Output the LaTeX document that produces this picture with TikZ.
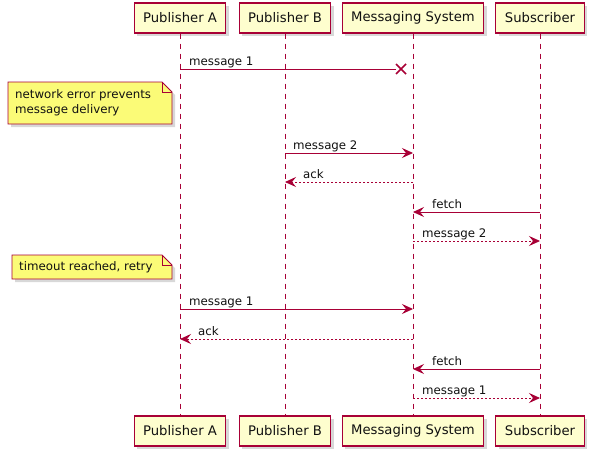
\documentclass[tikz,border=0pt]{standalone}
\usepackage{fontspec}
\setmainfont{DejaVu Sans}
\usetikzlibrary{arrows.meta,shadows}
\definecolor{pborder}{HTML}{A80036}
\definecolor{pfill}{HTML}{FEFECE}
\definecolor{nfill}{HTML}{FBFB77}
\definecolor{txt}{HTML}{111111}
\begin{document}
\begin{tikzpicture}[x=1pt,y=-1pt,
  part/.style={draw=pborder, fill=pfill, line width=1.1pt, minimum height=30pt, inner xsep=9pt,
    text=txt, font=\fontsize{13.2}{15}\selectfont,
    drop shadow={opacity=0.3, shadow xshift=3pt, shadow yshift=-3pt}},
  life/.style={draw=pborder, line width=0.8pt, dash pattern=on 5pt off 5pt},
  msg/.style={draw=pborder, line width=0.9pt, -{Stealth[length=11pt,width=10pt,inset=4pt]}},
  ret/.style={msg, dash pattern=on 2pt off 2pt},
  lbl/.style={anchor=base west, inner sep=0pt, text=txt, font=\fontsize{11.8}{14}\selectfont},
  notebg/.style={draw=pborder, fill=nfill, line width=0.9pt,
    drop shadow={opacity=0.3, shadow xshift=3pt, shadow yshift=-3pt}},
  notetxt/.style={anchor=west, inner sep=0pt, align=left, text=txt, font=\fontsize{11.8}{15}\selectfont}
]
\useasboundingbox (0,0) rectangle (593,455);
\fill[white] (0,0) rectangle (593,455);

% participants
\node[part] (tA) at (180,18) {Publisher A};
\node[part] (tB) at (285,18) {Publisher B};
\node[part] (tM) at (413,18) {Messaging System};
\node[part] (tS) at (540,18) {Subscriber};
\node[part] (bA) at (180,431) {Publisher A};
\node[part] (bB) at (285,431) {Publisher B};
\node[part] (bM) at (413,431) {Messaging System};
\node[part] (bS) at (540,431) {Subscriber};

% lifelines
\draw[life] (tA.south) -- (bA.north);
\draw[life] (tB.south) -- (bB.north);
\draw[life] (tM.south) -- (bM.north);
\draw[life] (tS.south) -- (bS.north);

% message 1 lost
\coordinate (a1) at (180,69);
\coordinate (x1) at (401,69);
\draw[draw=pborder, line width=0.9pt] (a1) -- ([xshift=-5pt]x1);
\draw[draw=pborder, line width=1.6pt] ([xshift=-5pt,yshift=-5pt]x1) -- ([xshift=5pt,yshift=5pt]x1)
  ([xshift=-5pt,yshift=5pt]x1) -- ([xshift=5pt,yshift=-5pt]x1);
\node[lbl] (l1) at (189,65) {message 1};

% note 1
\filldraw[notebg] (8,82) -- (162,82) -- (172,92) -- (172,124) -- (8,124) -- cycle;
\draw[draw=pborder, line width=0.9pt] (162,82) -- (162,92) -- (172,92);
\node[notetxt] (n1) at (15,103) {network error prevents\\message delivery};

% message 2
\coordinate (b2) at (285,153); \coordinate (m2) at (413,153);
\draw[msg] (b2) -- (m2);
\node[lbl] (l2) at (293,149) {message 2};
\coordinate (m3) at (413,182); \coordinate (b3) at (285,182);
\draw[ret] (m3) -- (b3);
\node[lbl] (l3) at (303,178) {ack};
\coordinate (s4) at (540,212); \coordinate (m4) at (413,212);
\draw[msg] (s4) -- (m4);
\node[lbl] (l4) at (432,208) {fetch};
\coordinate (m5) at (413,241); \coordinate (s5) at (540,241);
\draw[ret] (m5) -- (s5);
\node[lbl] (l5) at (422,237) {message 2};

% note 2
\filldraw[notebg] (12,255) -- (162,255) -- (172,265) -- (172,279) -- (12,279) -- cycle;
\draw[draw=pborder, line width=0.9pt] (162,255) -- (162,265) -- (172,265);
\node[notetxt] (n2) at (19,267) {timeout reached, retry};

% retry
\coordinate (a6) at (180,309); \coordinate (m6) at (413,309);
\draw[msg] (a6) -- (m6);
\node[lbl] (l6) at (189,305) {message 1};
\coordinate (m7) at (413,339); \coordinate (a7) at (180,339);
\draw[ret] (m7) -- (a7);
\node[lbl] (l7) at (198,335) {ack};
\coordinate (s8) at (540,369); \coordinate (m8) at (413,369);
\draw[msg] (s8) -- (m8);
\node[lbl] (l8) at (432,365) {fetch};
\coordinate (m9) at (413,398); \coordinate (s9) at (540,398);
\draw[ret] (m9) -- (s9);
\node[lbl] (l9) at (422,394) {message 1};
\end{tikzpicture}
\end{document}
